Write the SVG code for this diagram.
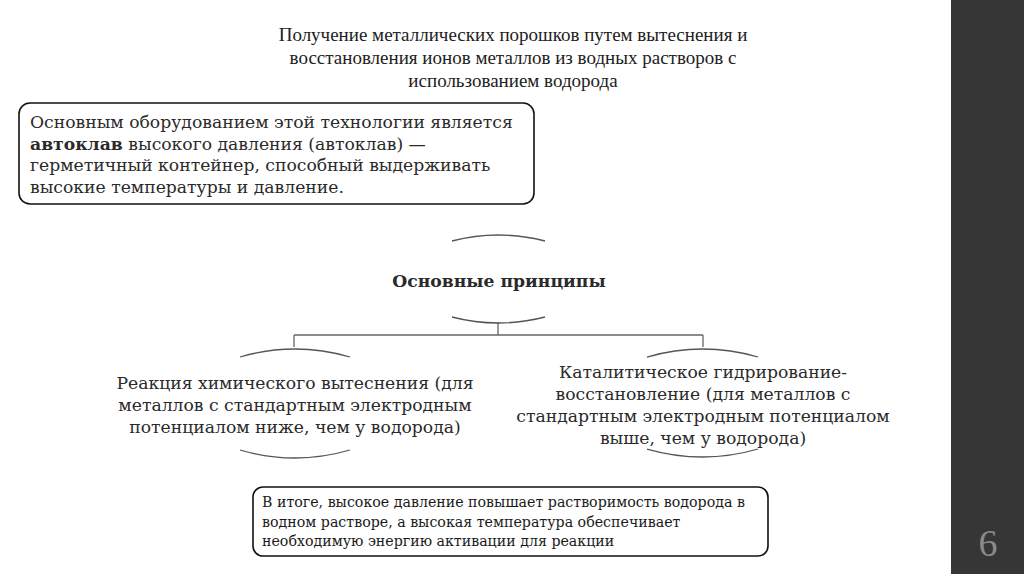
<svg xmlns="http://www.w3.org/2000/svg" width="1024" height="574" viewBox="0 0 1024 574">
<style>
.title{font-family:"Liberation Serif","Times New Roman",serif;font-size:19px;fill:#222;text-anchor:middle}
.body{font-family:"DejaVu Serif",serif;font-size:17.2px;fill:#2a2a2a}
.c{text-anchor:middle}
.box{fill:#fff;stroke:#111;stroke-width:1.6}
.arc{fill:none;stroke:#555;stroke-width:1.3}
.conn{fill:none;stroke:#666;stroke-width:1.3}
.small{font-family:"DejaVu Serif",serif;font-size:14.2px;fill:#1a1a1a}
</style>
<rect width="1024" height="574" fill="#fff"/>
<rect x="951" y="0" width="73" height="574" fill="#363636"/>
<text x="988" y="556" font-family="Liberation Serif,serif" font-size="38" fill="#8a8a8a" text-anchor="middle">6</text>
<g id="title">
<text class="title" x="513" y="41">Получение металлических порошков путем вытеснения и</text>
<text class="title" x="513" y="64">восстановления ионов металлов из водных растворов с</text>
<text class="title" x="513" y="87">использованием водорода</text>
</g>
<g id="box-equipment">
<rect class="box" x="19" y="103" width="515" height="101" rx="11"/>
<text class="body" x="30" y="128">Основным оборудованием этой технологии является</text>
<text class="body" x="30" y="150"><tspan font-weight="bold">автоклав</tspan> высокого давления (автоклав) —</text>
<text class="body" x="30" y="171">герметичный контейнер, способный выдерживать</text>
<text class="body" x="30" y="193">высокие температуры и давление.</text>
</g>
<g id="connectors">
<path class="conn" d="M498 322 V335 M294 335 H703 M294 335 V347 M703 335 V347"/>
</g>
<g id="node-principles">
<path class="arc" d="M452 241 Q498 229 545 241"/>
<text class="body c" x="499" y="287" font-weight="bold" font-size="17.8">Основные принципы</text>
<path class="arc" d="M452 317 Q498 329 545 317"/>
</g>
<g id="node-left">
<path class="arc" d="M240 357 Q295 341 350 357"/>
<text class="body c" x="295" y="389">Реакция химического вытеснения (для</text>
<text class="body c" x="295" y="411">металлов с стандартным электродным</text>
<text class="body c" x="295" y="433">потенциалом ниже, чем у водорода)</text>
<path class="arc" d="M240 450 Q295 466 350 450"/>
</g>
<g id="node-right">
<path class="arc" d="M647 357 Q703 341 758 357"/>
<text class="body c" x="703" y="378">Каталитическое гидрирование-</text>
<text class="body c" x="703" y="400">восстановление (для металлов с</text>
<text class="body c" x="703" y="422">стандартным электродным потенциалом</text>
<text class="body c" x="703" y="444">выше, чем у водорода)</text>
<path class="arc" d="M647 449 Q703 465 758 449"/>
</g>
<g id="box-summary">
<rect class="box" x="253" y="487" width="515" height="69" rx="10"/>
<text class="small" x="262" y="507">В итоге, высокое давление повышает растворимость водорода в</text>
<text class="small" x="262" y="527">водном растворе, а высокая температура обеспечивает</text>
<text class="small" x="262" y="546">необходимую энергию активации для реакции</text>
</g>
</svg>
